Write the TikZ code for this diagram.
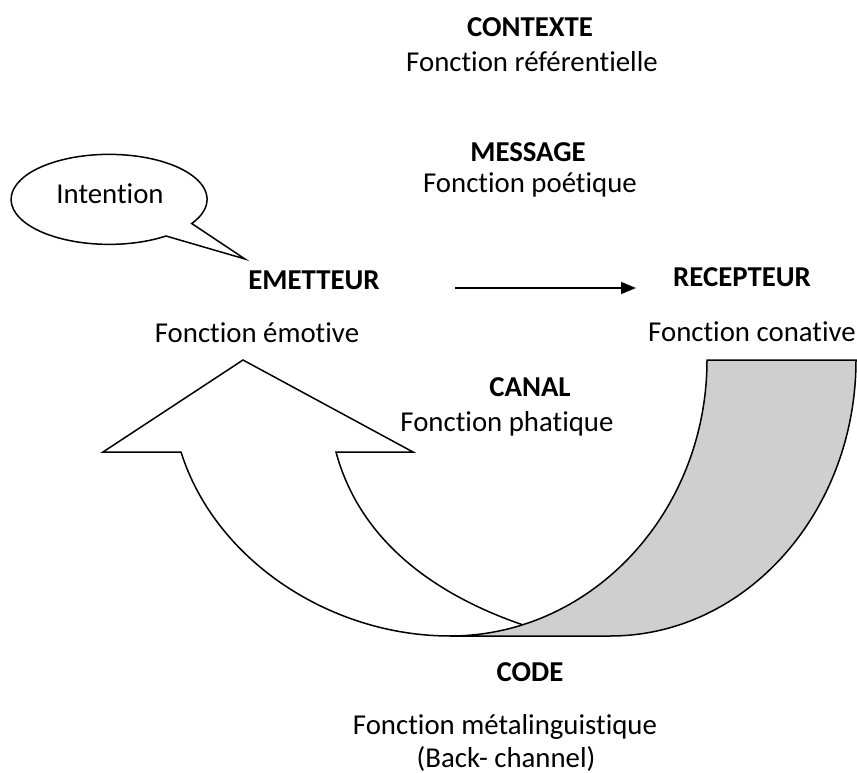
\documentclass[tikz,border=0pt]{standalone}
\usepackage{fontspec}
\setmainfont{Carlito}[Ligatures=NoCommon]
\usetikzlibrary{arrows.meta}
\definecolor{bandgrey}{RGB}{207,207,207}
\newcommand{\txtsize}{\fontsize{28.8}{34}\selectfont}
\begin{document}
\begin{tikzpicture}[x=1pt, y=-1pt, line width=1.5pt,
  txt/.style={inner sep=0pt, text height=20pt, text depth=6pt, font=\txtsize},
  titre/.style={txt, font=\txtsize\bfseries}]

\useasboundingbox (0,0) rectangle (857,773);

% grande fleche courbe (retour)
\draw[fill=white] (243,360) -- (413,452) -- (336,452)
  .. controls (365,560) and (468,612) .. (560,636) -- (450,636)
  .. controls (330,636) and (215,560) .. (181,452) -- (103,452) -- cycle;
\draw[fill=bandgrey] (707,360) -- (856,360)
  .. controls (856,512) and (746,636) .. (610,636) -- (450,636)
  .. controls (592,636) and (707,512) .. cycle;

% bulle
\draw[fill=white] (245,259) -- (166,236)
  arc[start angle=54.5, end angle=392.5, x radius=98, y radius=45] -- cycle;
\node[txt] (intention) at (110,197) {Intention};

\node[titre] (contexte) at (530,30) {CONTEXTE};
\node[txt] (referentielle) at (532,65) {Fonction référentielle};
\node[titre] (message) at (528,155) {MESSAGE};
\node[txt] (poetique) at (530,186) {Fonction poétique};
\node[titre] (emetteur) at (314,282) {EMETTEUR};
\node[txt] (emotive) at (257,335) {Fonction émotive};
\node[titre] (recepteur) at (742,279) {RECEPTEUR};
\node[txt] (conative) at (752,334) {Fonction conative};
\node[titre] (canal) at (530,389) {CANAL};
\node[txt] (phatique) at (507,424) {Fonction phatique};
\node[titre] (code) at (530,674) {CODE};
\node[txt] (metaling) at (505,727) {Fonction métalinguistique};
\node[txt] (backch) at (506,760) {(Back- channel)};

\coordinate (envoi) at (455,288);
\coordinate (reception) at (636,288);
\draw[-{Triangle[length=15pt,width=12pt]}] (envoi) -- (reception);

\end{tikzpicture}
\end{document}
